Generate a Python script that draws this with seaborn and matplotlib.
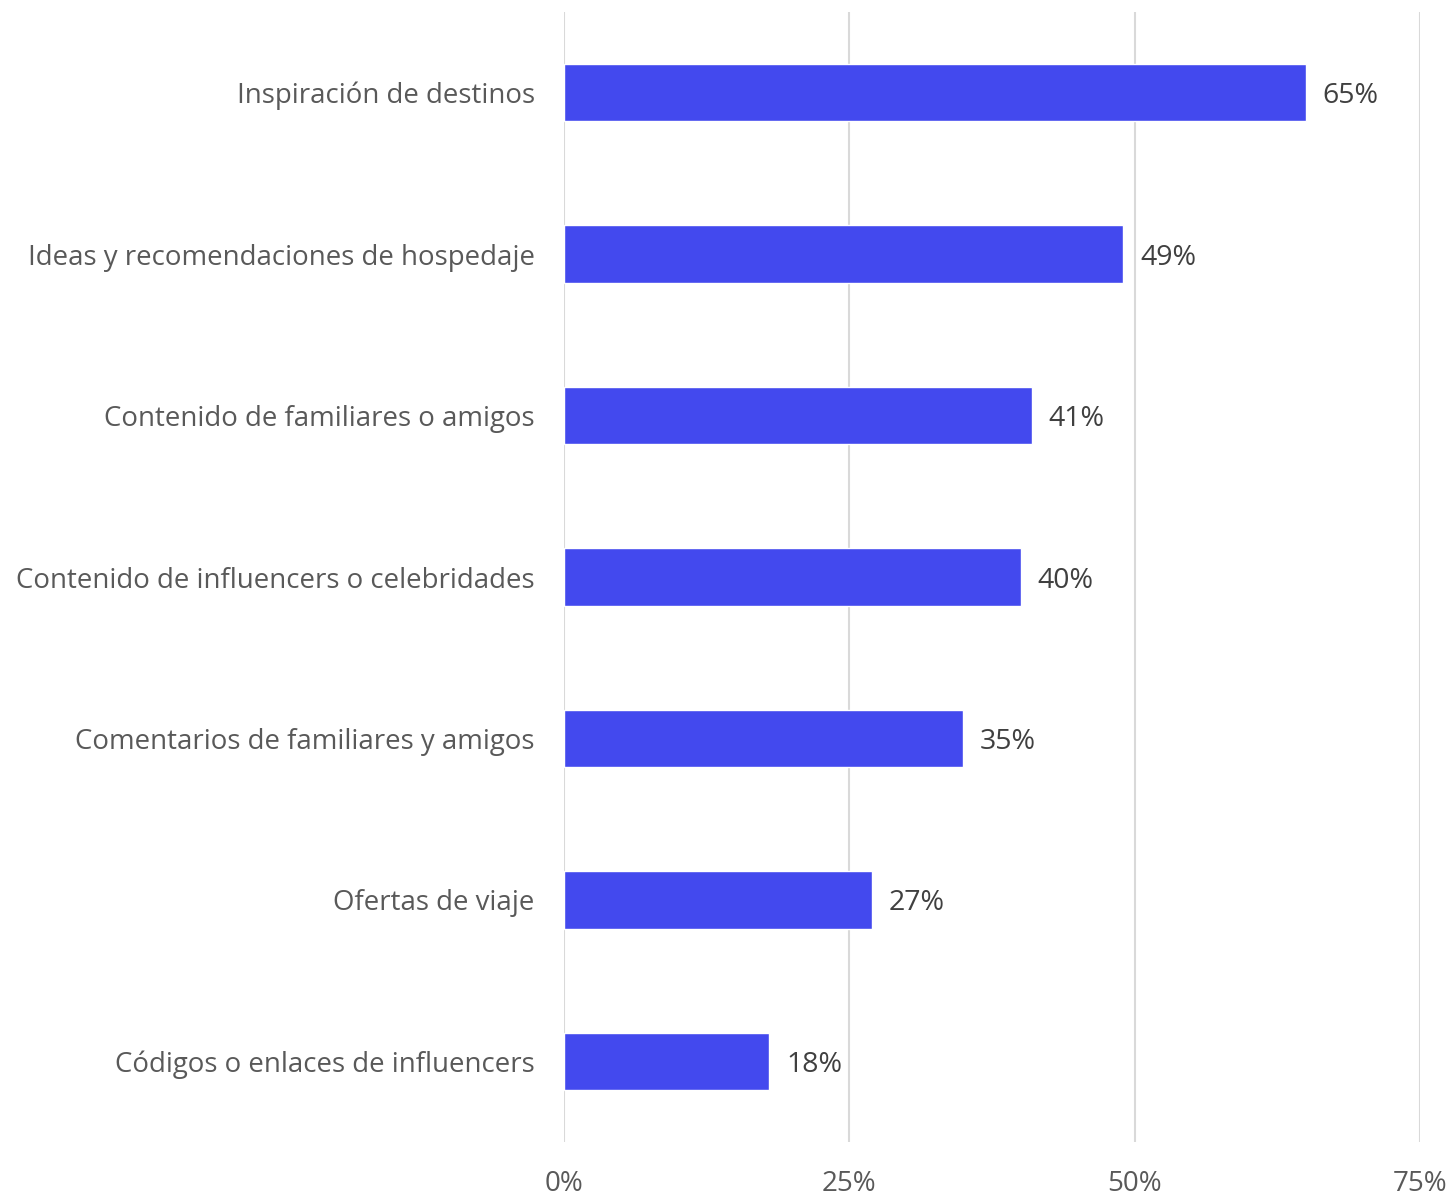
import matplotlib
matplotlib.use("Agg")
import matplotlib.pyplot as plt
import seaborn as sns
import pandas as pd

categories = [
    "Inspiración de destinos",
    "Ideas y recomendaciones de hospedaje",
    "Contenido de familiares o amigos",
    "Contenido de influencers o celebridades",
    "Comentarios de familiares y amigos",
    "Ofertas de viaje",
    "Códigos o enlaces de influencers",
]
values = [65, 49, 41, 40, 35, 27, 18]
x_ticks = [0, 25, 50, 75]
x_tick_labels = ["0%", "25%", "50%", "75%"]

sns.set_theme(style="white")
plt.rcParams["font.family"] = ["Open Sans", "DejaVu Sans"]

df = pd.DataFrame({"categoria": categories, "valor": values})

fig = plt.figure(figsize=(14.53, 11.95), dpi=100)
ax = fig.add_axes([564 / 1453, 1 - 1142 / 1195, (1420 - 564) / 1453, (1142 - 12) / 1195])

sns.barplot(data=df, x="valor", y="categoria", color="#4349EE", saturation=1,
            width=0.355, ax=ax, zorder=3)

ax.set_xlim(0, 75)
ax.set_ylim(6.5, -0.5)
ax.set_xticks(x_ticks)
ax.set_xticklabels(x_tick_labels)
ax.set_xlabel("")
ax.set_ylabel("")
ax.xaxis.grid(True, color="#D9D9D9", linewidth=1.5, zorder=0)
ax.yaxis.grid(False)
for s in ax.spines.values():
    s.set_visible(False)
ax.tick_params(axis="x", length=0, pad=20, labelsize=20, labelcolor="#595959")
ax.tick_params(axis="y", length=0, pad=21, labelsize=19.9, labelcolor="#595959")

for container in ax.containers:
    texts = ax.bar_label(container, labels=[f"{v}%" for v in values], padding=12,
                         fontsize=20.5, color="#404040")
    for t in texts:
        t.set_va("center_baseline")

fig.savefig("out.png", dpi=100)
